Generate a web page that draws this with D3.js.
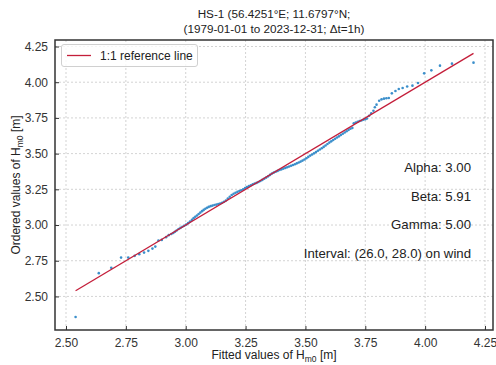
<!DOCTYPE html>
<html><head><meta charset="utf-8">
<script src="https://cdn.jsdelivr.net/npm/d3@7"></script>
<style>body{margin:0;background:#fff}svg{display:block}text{font-family:"Liberation Sans",Arial,sans-serif}</style>
</head><body><div id="chart"></div>
<script>
const fitted = [2.540,2.637,2.689,2.730,2.760,2.787,2.806,2.826,2.844,2.861,2.873,2.886,2.900,2.918,2.929,
2.940,2.948,2.955,2.962,2.970,2.978,2.986,2.994,3.002,3.010,3.018,3.026,3.033,3.040,3.047,3.054,3.061,3.068,3.075,3.082,3.089,3.096,3.104,3.112,3.120,3.128,3.136,3.144,3.152,3.160,3.168,3.176,3.184,3.192,3.200,3.208,3.216,3.224,3.232,3.240,3.248,3.256,3.264,3.272,3.280,3.288,3.296,3.304,3.312,3.320,3.328,3.336,3.344,3.352,3.360,3.368,3.376,3.384,3.392,3.400,3.408,3.416,3.424,3.432,3.440,3.448,3.456,3.464,3.472,3.480,3.488,3.496,3.504,3.512,3.520,3.528,3.536,3.544,3.552,3.560,3.568,3.576,3.584,3.592,3.600,3.608,3.616,3.624,3.632,3.640,3.648,3.656,3.664,3.672,3.680,3.688,3.696,3.702,3.710,3.718,3.726,3.734,3.742,3.750,3.757,
3.766,3.775,3.784,3.790,3.797,3.808,3.818,3.828,3.838,3.848,3.861,3.876,3.890,3.906,3.925,3.947,3.970,3.996,4.026,4.062,4.112,4.202];
const ordered = [2.356,2.663,2.700,2.772,2.772,2.784,2.796,2.807,2.819,2.835,2.849,2.892,2.896,2.915,2.929,
2.937,2.944,2.953,2.962,2.972,2.980,2.988,2.995,3.003,3.013,3.024,3.036,3.048,3.058,3.067,3.077,3.087,3.097,3.106,3.114,3.121,3.127,3.132,3.136,3.140,3.143,3.147,3.151,3.156,3.163,3.172,3.185,3.198,3.210,3.219,3.226,3.232,3.238,3.244,3.251,3.259,3.266,3.273,3.279,3.285,3.290,3.295,3.301,3.308,3.316,3.324,3.332,3.341,3.351,3.360,3.367,3.373,3.379,3.385,3.390,3.395,3.400,3.405,3.410,3.415,3.420,3.426,3.432,3.438,3.444,3.451,3.459,3.468,3.477,3.486,3.494,3.502,3.511,3.520,3.529,3.538,3.547,3.557,3.567,3.577,3.586,3.595,3.604,3.613,3.621,3.630,3.639,3.648,3.657,3.666,3.674,3.680,3.712,3.718,3.723,3.728,3.732,3.737,3.741,3.746,
3.765,3.782,3.800,3.825,3.843,3.870,3.880,3.885,3.888,3.889,3.922,3.938,3.952,3.960,3.970,3.976,3.995,4.062,4.083,4.116,4.130,4.137];
const xTicks = [2.50,2.75,3.00,3.25,3.50,3.75,4.00,4.25];
const yTicks = [2.50,2.75,3.00,3.25,3.50,3.75,4.00,4.25];
const titleLines = ["HS-1 (56.4251°E; 11.6797°N;", "(1979-01-01 to 2023-12-31; Δt=1h)"];
const annotations = ["Alpha: 3.00","Beta: 5.91","Gamma: 5.00","Interval: (26.0, 28.0) on wind"];
const legendLabel = "1:1 reference line";

const W=496,H=365;
const m={l:55,r:3,t:40,b:35};
const svg=d3.select("#chart").append("svg").attr("width",W).attr("height",H);
const x=d3.scaleLinear().domain([2.5-11/239.3,4.25+8/239.3]).range([m.l,W-m.r]);
const y=d3.scaleLinear().domain([2.5-33.5/142.5,4.25+6.5/142.5]).range([H-m.b,m.t]);

// grid
const g=svg.append("g");
g.selectAll("line.gx").data(xTicks).join("line").attr("x1",d=>x(d)).attr("x2",d=>x(d)).attr("y1",m.t).attr("y2",H-m.b)
 .attr("stroke","#c8c8c8").attr("stroke-width",0.8).attr("stroke-dasharray","2,2");
g.selectAll("line.gy").data(yTicks).join("line").attr("y1",d=>y(d)).attr("y2",d=>y(d)).attr("x1",m.l).attr("x2",W-m.r)
 .attr("stroke","#c8c8c8").attr("stroke-width",0.8).attr("stroke-dasharray","2,2");

// axes
const xa=svg.append("g").attr("transform",`translate(0,${H-m.b})`).call(d3.axisBottom(x).tickValues(xTicks).tickFormat(d3.format(".2f")).tickSizeInner(-4).tickSizeOuter(0).tickPadding(8));
const ya=svg.append("g").attr("transform",`translate(${m.l},0)`).call(d3.axisLeft(y).tickValues(yTicks).tickFormat(d3.format(".2f")).tickSizeInner(-4).tickSizeOuter(0).tickPadding(7));
[xa,ya].forEach(a=>{a.select(".domain").remove();a.selectAll("line").attr("stroke","#333");a.selectAll("text").attr("font-size",12).attr("fill","#333").attr("font-family","Liberation Sans, Arial, sans-serif");});

// data
svg.append("clipPath").attr("id","c").append("rect").attr("x",m.l).attr("y",m.t).attr("width",W-m.l-m.r).attr("height",H-m.t-m.b);
const xmin=d3.min(fitted),xmax=d3.max(fitted);
svg.append("g").attr("clip-path","url(#c)").selectAll("circle").data(fitted).join("circle")
 .attr("cx",d=>x(d)).attr("cy",(d,i)=>y(ordered[i])).attr("r",1.3).attr("fill","#3b8fcb");
svg.append("line").attr("x1",x(xmin)).attr("y1",y(xmin)).attr("x2",x(xmax)).attr("y2",y(xmax))
 .attr("stroke","#c41e3a").attr("stroke-width",1.3);

// frame
svg.append("rect").attr("x",m.l).attr("y",m.t).attr("width",W-m.l-m.r).attr("height",H-m.t-m.b)
 .attr("fill","none").attr("stroke","#333").attr("stroke-width",1.5);

// title
const cx=(m.l+W-m.r)/2;
svg.selectAll("text.title").data(titleLines).join("text").attr("x",cx).attr("y",(d,i)=>18+i*14.5)
 .attr("text-anchor","middle").attr("font-size",11.7).attr("fill","#222").text(d=>d);

// axis labels
const xl=svg.append("text").attr("x",cx).attr("y",359).attr("text-anchor","middle").attr("font-size",12).attr("fill","#222");
xl.append("tspan").text("Fitted values of H");
xl.append("tspan").attr("font-size",8.5).attr("dy",2.5).text("m0");
xl.append("tspan").attr("dy",-2.5).text(" [m]");
const yl=svg.append("text").attr("transform",`translate(20,${(m.t+H-m.b)/2}) rotate(-90)`).attr("text-anchor","middle").attr("font-size",12).attr("fill","#222");
yl.append("tspan").text("Ordered values of H");
yl.append("tspan").attr("font-size",8.5).attr("dy",2.5).text("m0");
yl.append("tspan").attr("dy",-2.5).text(" [m]");

// legend
svg.append("rect").attr("x",61.5).attr("y",44.5).attr("width",136).attr("height",22).attr("rx",2.5)
 .attr("fill","#fff").attr("fill-opacity",0.8).attr("stroke","#d0d0d0");
svg.append("line").attr("x1",67).attr("x2",91).attr("y1",55.5).attr("y2",55.5).attr("stroke","#c41e3a").attr("stroke-width",1.3);
svg.append("text").attr("x",100).attr("y",59.5).attr("font-size",12).attr("fill","#222").text(legendLabel);

// annotations
svg.selectAll("text.ann").data(annotations).join("text").attr("x",471).attr("y",(d,i)=>172+i*28.5)
 .attr("text-anchor","end").attr("font-size",13.2).attr("fill","#222").text(d=>d);
</script></body></html>
